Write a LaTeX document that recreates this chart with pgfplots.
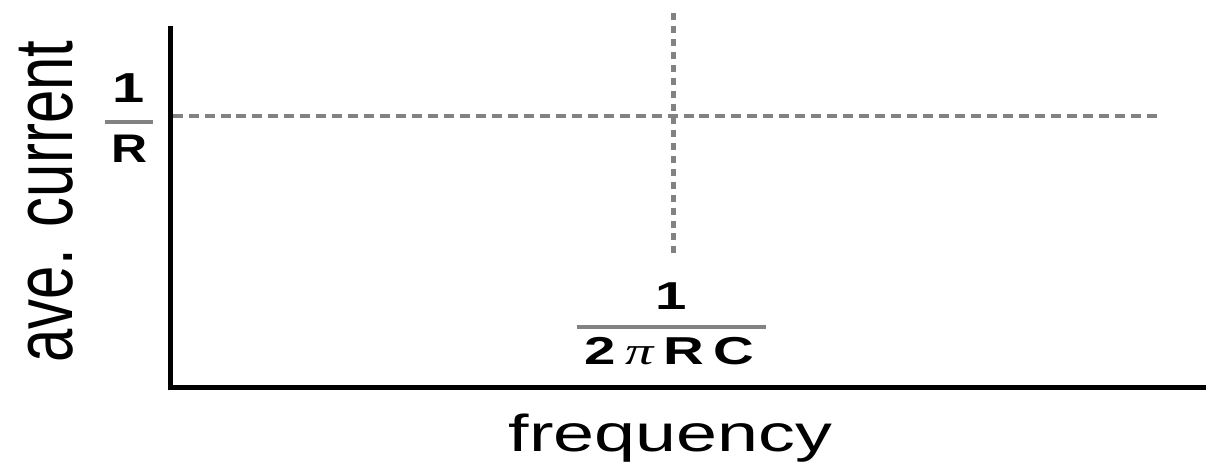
\documentclass[border=0pt]{standalone}
\usepackage{pgfplots}
\pgfplotsset{compat=1.18}
\usepackage{fontspec}
\setmainfont{Liberation Sans}
\newfontfamily\seriffont{Liberation Serif}
\usepackage{graphicx}

\definecolor{guide}{RGB}{130,130,130}

% horizontal stretch of the lettering
\newcommand{\wide}[2][1.38]{\scalebox{#1}[1]{#2}}

\begin{document}
\begin{tikzpicture}
\begin{axis}[
  scale only axis,
  width=519.5pt, height=181pt,
  xmin=170, xmax=1209,
  ymin=81, ymax=443,
  hide axis,
  clip=false,
]
% overall canvas
\path (axis cs:0,0) rectangle (axis cs:1209,469);

% cut-off guides
\addplot[guide, line width=2pt, dash pattern=on 5pt off 3pt]
  coordinates {(173,353) (1161,353)};
\addplot[guide, line width=2.4pt, dash pattern=on 3.5pt off 3pt]
  coordinates {(675,456) (675,213)};

% axes
\draw[black, line width=2.6pt, line join=miter]
  (axis cs:171,443) -- (axis cs:171,81) -- (axis cs:1209,81);

% level 1/R
\node[anchor=base, font=\fontsize{21}{24}\selectfont\bfseries, inner sep=0pt]
  at (axis cs:129,366) {\wide{1}};
\draw[guide, line width=2pt] (axis cs:105,347) -- (axis cs:153,347);
\node[anchor=base, font=\fontsize{20}{24}\selectfont\bfseries, inner sep=0pt]
  at (axis cs:130,306) {\wide[1.25]{R}};

% corner frequency 1/(2 pi R C)
\node[anchor=base, font=\fontsize{19.5}{23}\selectfont\bfseries, inner sep=0pt]
  at (axis cs:673,159) {\wide[1.45]{1}};
\draw[guide, line width=2pt] (axis cs:578,141) -- (axis cs:768,141);
\node[anchor=base, font=\fontsize{19.5}{23}\selectfont\bfseries, inner sep=0pt]
  at (axis cs:671,104) {\wide[1.45]{2\,{\seriffont\mdseries\itshape π}\,R\,C}};

% axis titles
\node[anchor=base, font=\fontsize{26}{30}\selectfont, inner sep=0pt]
  at (axis cs:672,17) {\wide[1.42]{frequency}};
\node[rotate=90, font=\fontsize{30}{34}\selectfont, inner sep=0pt]
  at (axis cs:46,267) {\scalebox{1}[1.38]{ave. current}};
\end{axis}
\end{tikzpicture}
\end{document}
